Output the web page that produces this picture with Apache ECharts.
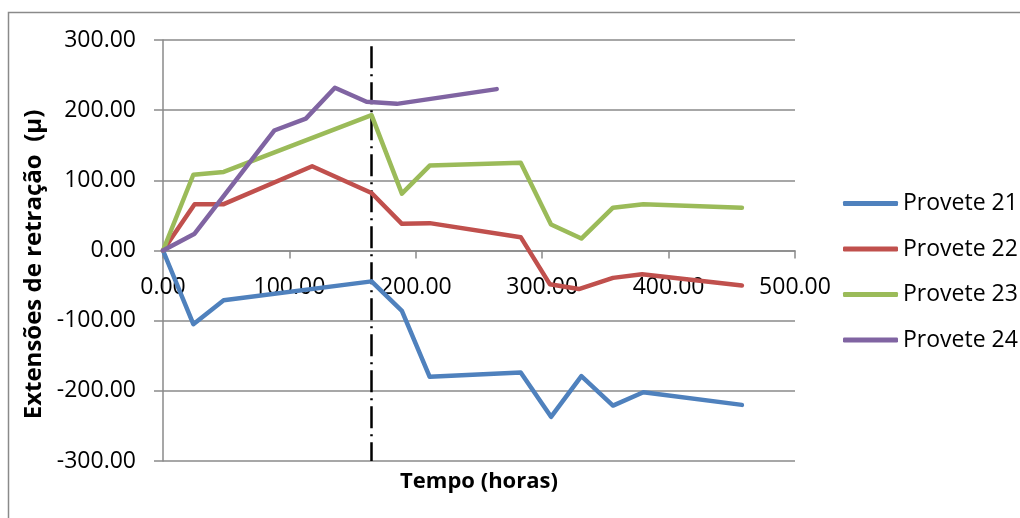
<!DOCTYPE html>
<html>
<head>
<meta charset="utf-8">
<script src="https://cdn.jsdelivr.net/npm/echarts@6/dist/echarts.min.js"></script>
<style>
html,body{margin:0;padding:0;background:#fff;}
#c{width:1020px;height:518px;}
</style>
</head>
<body>
<div id="c"></div>
<script>
const seriesNames = ['Provete 21', 'Provete 22', 'Provete 23', 'Provete 24'];
const provete21 = [[0,0],[24,-105],[48,-71],[165,-44],[189,-86],[211,-180],[283,-174],[307,-237],[331,-179],[356,-221],[380,-202],[458,-220]];
const provete22 = [[0,0],[25,66],[48,66],[118,120],[165,82],[189,38],[211,39],[283,19],[306,-48],[329,-55],[356,-39],[379,-34],[458,-50]];
const provete23 = [[0,0],[24,108],[48,112],[165,193],[189,81],[211,121],[283,125],[307,37],[331,17],[356,61],[380,66],[458,61]];
const provete24 = [[0,0],[25,24],[88,171],[113,188],[136,232],[161,212],[185,209],[264,230]];
const markerTime = 165;
const markerRange = [291, -300];
const xTitle = 'Tempo (horas)';
const yTitle = 'Extensões de retração  (µ)';

const colors = ['#4F81BD', '#C0504D', '#9BBB59', '#8064A2'];
const allData = [provete21, provete22, provete23, provete24];
const FONT = 'Open Sans';
const grey = '#8a8a8a';

const chart = echarts.init(document.getElementById('c'), null, {renderer: 'canvas'});

const series = allData.map((d, i) => ({
  name: seriesNames[i],
  type: 'line',
  data: d,
  symbol: 'none',
  showSymbol: false,
  lineStyle: {color: colors[i], width: 4.5, cap: 'round', join: 'round'},
  itemStyle: {color: colors[i]},
  z: 5,
  animation: false
}));
series[0].markLine = {
  silent: true,
  symbol: 'none',
  label: {show: false},
  lineStyle: {color: '#000', width: 2.5, type: [22, 6, 2, 6], cap: 'butt'},
  data: [[{coord: [markerTime, markerRange[0]]}, {coord: [markerTime, markerRange[1]]}]],
  animation: false
};

chart.setOption({
  animation: false,
  backgroundColor: '#fff',
  textStyle: {fontFamily: FONT},
  graphic: [{
    type: 'rect',
    shape: {x: 8.5, y: 12.5, width: 1040, height: 540},
    style: {fill: 'none', stroke: grey, lineWidth: 1.5},
    silent: true
  }],
  grid: {left: 163, right: 225, top: 40, bottom: 57, containLabel: false, outerBoundsMode: 'none'},
  legend: {
    orient: 'vertical',
    left: 838,
    top: 187,
    icon: 'roundRect',
    itemWidth: 55,
    itemHeight: 5,
    itemGap: 22.5,
    textStyle: {fontFamily: FONT, fontSize: 23, color: '#000', lineHeight: 23},
    data: seriesNames
  },
  xAxis: {
    type: 'value',
    min: 0, max: 500, interval: 100,
    name: xTitle,
    nameLocation: 'middle',
    nameGap: 10,
    nameTextStyle: {fontFamily: FONT, fontSize: 22, fontWeight: 'bold', color: '#000', verticalAlign: 'top'},
    axisLine: {show: true, onZero: true, lineStyle: {color: grey, width: 1.5}},
    axisTick: {show: true, length: 8, inside: false, lineStyle: {color: grey, width: 1.5}},
    axisLabel: {fontFamily: FONT, fontSize: 23, color: '#000', margin: -185, formatter: v => v.toFixed(2)},
    splitLine: {show: false}
  },
  yAxis: {
    type: 'value',
    min: -300, max: 300, interval: 100,
    name: yTitle,
    nameLocation: 'middle',
    nameGap: 104,
    nameTextStyle: {fontFamily: FONT, fontSize: 24, fontWeight: 'bold', color: '#000', padding: [0, 28, 0, 0]},
    axisLine: {show: true, lineStyle: {color: grey, width: 1.5}},
    axisTick: {show: true, length: 9, lineStyle: {color: grey, width: 1.5}},
    axisLabel: {fontFamily: FONT, fontSize: 23, color: '#000', margin: 27, formatter: v => v.toFixed(2)},
    splitLine: {show: true, lineStyle: {color: grey, width: 1.5}}
  },
  series: series
});
</script>
</body>
</html>
